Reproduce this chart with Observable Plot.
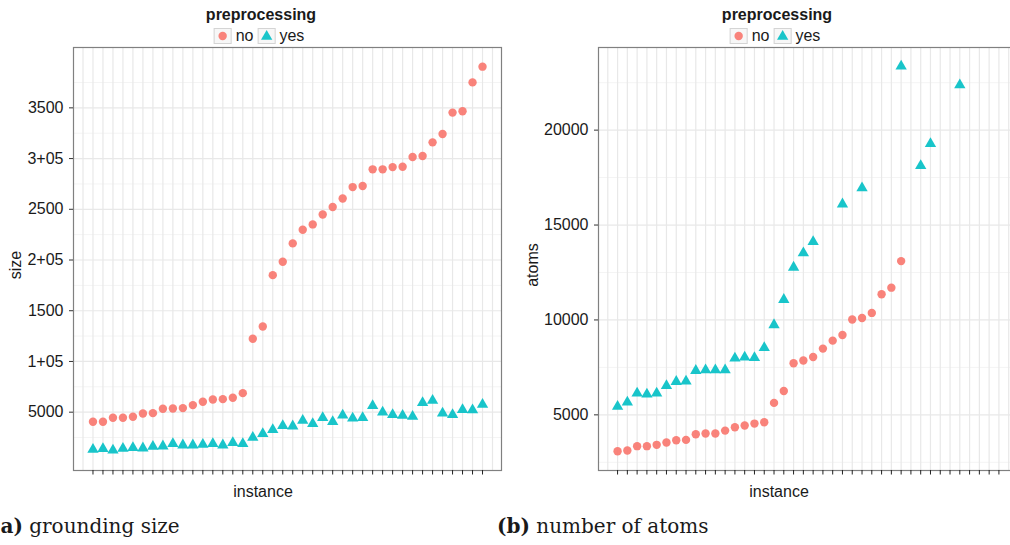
<!DOCTYPE html>
<html><head><meta charset="utf-8">
<script src="https://cdn.jsdelivr.net/npm/d3@7"></script>
<script src="https://cdn.jsdelivr.net/npm/@observablehq/plot@0.6"></script>
<style>
body{margin:0;background:#fff;}
#wrap{position:relative;width:1010px;height:545px;overflow:hidden;font-family:"Liberation Sans",Arial,sans-serif;color:#1a1a1a;background:#fff;}
.abs{position:absolute;}
.legtitle{font-weight:bold;font-size:16px;transform:translateX(-50%);white-space:nowrap;line-height:18px;}
.legrow{display:flex;align-items:center;transform:translateX(-50%);font-size:16px;white-space:nowrap;line-height:16px;}
.key{width:16px;height:14px;border:1px solid #d4d4d4;display:flex;align-items:center;justify-content:center;background:#f7f7f7;}
.key svg{display:block}
.legrow span.t{margin:0 4px 0 4px;}
.ylab{transform:translate(-50%,-50%) rotate(-90deg);font-size:16px;white-space:nowrap;}
.xlab{transform:translate(-50%,-50%);font-size:16px;white-space:nowrap;}
.cap{font-family:"DejaVu Serif",serif;font-size:20px;white-space:nowrap;}
</style>
</head><body>
<div id="wrap"></div>
<script>
// ---- data ----
const instances = [1,2,3,4,5,6,7,8,9,10,11,12,13,14,15,16,17,18,19,20,21,22,23,24,25,26,27,28,29,30,31,32,33,34,35,36,37,38,39,40];
const groups = ["no", "yes"];
const groupColors = ["#F8766D", "#00BFC4"];

const sizeNo = [40530,40530,44480,44480,45460,48720,49040,53350,53680,54000,56950,60240,62520,62850,64170,68770,122370,134500,185100,198300,216400,229800,235100,244900,252200,260700,271900,272900,289400,289400,291600,291900,301500,302500,316000,324200,345300,346600,375100,390600];
const sizeYes = [13220,13880,12530,14210,14900,14540,16180,16500,18840,17500,17500,18170,18840,17500,19830,18840,25050,28700,32640,36590,36260,41820,38540,44480,40530,47040,44080,44480,56300,50000,47400,46750,45760,59270,61540,49000,47400,52370,52040,57600];
const sizeTicks = [50000,100000,150000,200000,250000,300000,350000];
const sizeTickLabels = ["5000","1+05","1500","2+05","2500","3+05","3500"];
const sizeMinor = [25000,75000,125000,175000,225000,275000,325000,375000];

const atomsNo = [3080,3120,3350,3350,3420,3540,3660,3680,3980,4020,4020,4170,4350,4440,4540,4610,5630,6260,7720,7860,8050,8490,8910,9210,10020,10100,10370,11350,11700,13100,null,null,null,null,null,null,null,null,null,null];
const atomsYes = [5440,5660,6140,6080,6140,6530,6750,6770,7330,7360,7360,7360,7980,8030,8010,8530,9740,11070,12770,13530,14120,null,null,16100,null,16950,null,null,null,23370,null,18120,19280,null,null,22380,null,null,null,null];
const atomsTicks = [5000,10000,15000,20000];
const atomsTickLabels = ["5000","10000","15000","20000"];
const atomsMinor = [2500,7500,12500,17500,22500];

const gridInstances = [0, ...instances, 41];

function panel({no, yes, ticks, tickLabels, minor, yDomain, width, height, ml, mr, mt, mb}) {
  const rows = instances.map((inst, i) => ({inst, no: no[i], yes: yes[i]}));
  return Plot.plot({
    width, height,
    marginLeft: ml, marginRight: mr, marginTop: mt, marginBottom: mb,
    style: {fontFamily: '"Liberation Sans", Arial, sans-serif', fontSize: "16px", color: "#1a1a1a", background: "transparent", overflow: "visible"},
    x: {type: "linear", domain: [-0.95, 41.9], axis: null},
    y: {type: "linear", domain: yDomain, axis: null},
    marks: [
      Plot.gridY(minor, {stroke: "#f4f4f4", strokeOpacity: 1, strokeWidth: 1}),
      Plot.gridY(ticks, {stroke: "#e8e8e8", strokeOpacity: 1, strokeWidth: 1.2}),
      Plot.gridX(gridInstances, {stroke: "#e8e8e8", strokeOpacity: 1, strokeWidth: 1.2}),
      Plot.frame({stroke: "#808080", strokeWidth: 1.2}),
      Plot.dot(rows, {x: "inst", y: "no", symbol: "circle", r: 4.2, fill: groupColors[0], fillOpacity: 0.9}),
      Plot.dot(rows, {x: "inst", y: "yes", symbol: "triangle", r: 4.2, fill: groupColors[1], fillOpacity: 0.9}),
      Plot.axisX(instances, {tickSize: 4.5, tickFormat: () => "", stroke: "#222", label: null}),
      Plot.axisY(ticks, {tickSize: 4, tickPadding: 6, tickFormat: d => tickLabels[ticks.indexOf(d)], stroke: "#333", fill: "#1a1a1a", fontSize: 16, label: null})
    ]
  });
}

const wrap = document.getElementById("wrap");
function place(el, left, top) { el.classList.add("abs"); el.style.left = left + "px"; el.style.top = top + "px"; wrap.appendChild(el); return el; }
function div(cls, html) { const d = document.createElement("div"); d.className = cls; d.innerHTML = html; return d; }

const left = panel({no: sizeNo, yes: sizeYes, ticks: sizeTicks, tickLabels: sizeTickLabels, minor: sizeMinor,
  yDomain: [-7500, 409500], width: 510, height: 500, ml: 73, mr: 9, mt: 47, mb: 30});
place(left, 0, 0);
const right = panel({no: atomsNo, yes: atomsYes, ticks: atomsTicks, tickLabels: atomsTickLabels, minor: atomsMinor,
  yDomain: [2068, 24353], width: 525, height: 500, ml: 93, mr: 13, mt: 47, mb: 30});
place(right, 505, 0);

function keySvg(sym, color) {
  const shape = sym === "circle"
    ? `<circle cx="7" cy="7" r="4.2" fill="${color}" fill-opacity="0.9"/>`
    : `<path d="${d3.symbol(d3.symbolTriangle, Math.PI*4.2*4.2)()}" transform="translate(7,7.5)" fill="${color}" fill-opacity="0.9"/>`;
  return `<svg width="14" height="14">${shape}</svg>`;
}
function legend(cx) {
  place(div("legtitle", "preprocessing"), cx, 6);
  const row = div("legrow",
    `<div class="key">${keySvg("circle", groupColors[0])}</div><span class="t">${groups[0]}</span>` +
    `<div class="key">${keySvg("triangle", groupColors[1])}</div><span class="t">${groups[1]}</span>`);
  place(row, cx, 28);
}
legend(261);
legend(777);

place(div("ylab", "size"), 16, 265);
place(div("ylab", "atoms"), 533, 265);
place(div("xlab", "instance"), 263, 492);
place(div("xlab", "instance"), 779, 492);

place(div("cap", "<b>(a)</b> grounding size"), -9, 514);
place(div("cap", "<b>(b)</b> number of atoms"), 497, 514);
</script>
</body></html>
